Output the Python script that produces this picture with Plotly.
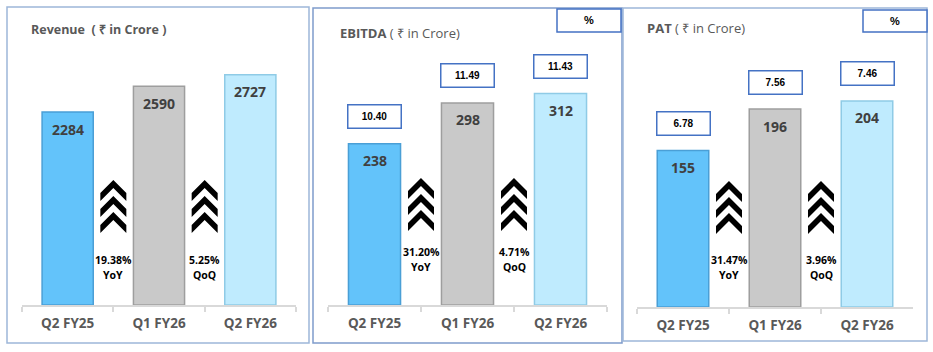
import plotly.graph_objects as go

W, H = 933, 352

categories = ["Q2 FY25", "Q1 FY26", "Q2 FY26"]
revenue = [2284, 2590, 2727]
ebitda = [238, 298, 312]
pat = [155, 196, 204]
ebitda_margin = ["10.40", "11.49", "11.43"]
pat_margin = ["6.78", "7.56", "7.46"]
revenue_growth = [["19.38%", "YoY"], ["5.25%", "QoQ"]]
ebitda_growth = [["31.20%", "YoY"], ["4.71%", "QoQ"]]
pat_growth = [["31.47%", "YoY"], ["3.96%", "QoQ"]]
titles = ["<b>Revenue  ( ₹ in Crore )</b>",
          "<b>EBITDA</b> ( ₹ in Crore)",
          "<b>PAT</b> ( ₹ in Crore)"]

bar_colors = ["#63C3FA", "#C9C9C9", "#BFEBFE"]
bar_lines = ["#4A9FD6", "#9E9E9E", "#8FCBE6"]
TEXT_GRAY = "#595959"
VAL_GRAY = "#404040"


def PX(x):
    return x / W


def PY(y):
    return 1 - y / H


# layout (pixel geometry of each panel)
panels = [
    dict(values=revenue, margins=None, growth=revenue_growth, title=titles[0], title_size=12.5,
         ax0=22, ax1=296, base=305, top=45, scale=11.84,
         border=(7, 7, 309, 343), bcolor="#9DB7D9", title_xy=(29, 29),
         chev_top=180, growth_y=(260, 275), pct_box=None),
    dict(values=ebitda, margins=ebitda_margin, growth=ebitda_growth, title=titles[1], title_size=13,
         ax0=328, ax1=607, base=305, top=45, scale=1.475,
         border=(313, 8, 622, 343), bcolor="#7F9CCB", title_xy=(338, 33),
         chev_top=178, growth_y=(252, 267), pct_box=(557, 9, 621, 32)),
    dict(values=pat, margins=pat_margin, growth=pat_growth, title=titles[2], title_size=13,
         ax0=637, ax1=913, base=307, top=45, scale=0.99,
         border=(623, 8, 927, 341), bcolor="#9DB7D9", title_xy=(645, 28),
         chev_top=181, growth_y=(260, 275), pct_box=(863, 10, 927, 32)),
]

fig = go.Figure()
shapes = []
annotations = []

for i, p in enumerate(panels):
    sfx = "" if i == 0 else str(i + 1)
    xa, ya = "x" + sfx, "y" + sfx
    fig.add_trace(go.Bar(
        x=categories, y=p["values"], xaxis=xa, yaxis=ya,
        marker=dict(color=bar_colors, line=dict(color=bar_lines, width=1.5)),
        hoverinfo="skip", showlegend=False,
    ))
    yrange = (p["base"] - p["top"]) * p["scale"]
    fig.layout["xaxis" + sfx] = dict(
        domain=[PX(p["ax0"]), PX(p["ax1"])], anchor=ya,
        showline=True, linecolor="#D9D9D9", linewidth=2,
        ticks="outside", tickson="boundaries", ticklen=5, tickcolor="#D9D9D9", tickwidth=2,
        tickfont=dict(family="Open Sans", size=13.5, color=TEXT_GRAY, weight="bold"),
        showgrid=False, zeroline=False, fixedrange=True, ticklabelstandoff=5,
    )
    fig.layout["yaxis" + sfx] = dict(
        domain=[PY(p["base"]), PY(p["top"])], anchor=xa, range=[0, yrange],
        visible=False, showgrid=False, zeroline=False, fixedrange=True,
    )

    # panel border
    bx0, by0, bx1, by1 = p["border"]
    shapes.append(dict(type="rect", xref="paper", yref="paper",
                       x0=PX(bx0), x1=PX(bx1), y0=PY(by1), y1=PY(by0),
                       line=dict(color=p["bcolor"], width=1.5), fillcolor="rgba(0,0,0,0)",
                       layer="below"))
    # title
    annotations.append(dict(xref="paper", yref="paper", x=PX(p["title_xy"][0]),
                            y=PY(p["title_xy"][1]), xanchor="left", yanchor="middle",
                            text=p["title"], showarrow=False,
                            font=dict(family="Open Sans", size=p["title_size"], color=TEXT_GRAY)))
    # value labels inside bars
    for c, v in zip(categories, p["values"]):
        annotations.append(dict(xref=xa, yref=ya, x=c, y=v, yshift=-17,
                                xanchor="center", yanchor="middle",
                                text="<b>%d</b>" % v, showarrow=False,
                                font=dict(family="Open Sans", size=14, color=VAL_GRAY)))
    # margin boxes
    if p["margins"]:
        for c, v, m in zip(categories, p["values"], p["margins"]):
            annotations.append(dict(xref=xa, yref=ya, x=c, y=v, yshift=27,
                                    xanchor="center", yanchor="middle",
                                    text="<b>%s</b>" % m, showarrow=False,
                                    width=50, height=20, borderpad=1,
                                    bordercolor="#4472C4", borderwidth=1.5, bgcolor="white",
                                    font=dict(family="Arial", size=10, color="black")))
    if p["pct_box"]:
        qx0, qy0, qx1, qy1 = p["pct_box"]
        shapes.append(dict(type="rect", xref="paper", yref="paper",
                           x0=PX(qx0), x1=PX(qx1), y0=PY(qy1), y1=PY(qy0),
                           line=dict(color="#4472C4", width=1.5), fillcolor="white"))
        annotations.append(dict(xref="paper", yref="paper", x=PX((qx0 + qx1) / 2),
                                y=PY((qy0 + qy1) / 2), xanchor="center", yanchor="middle",
                                text="<b>%</b>", showarrow=False,
                                font=dict(family="Arial", size=11, color="black")))
    # chevrons + growth text at category boundaries
    for k, (pct, lbl) in enumerate(p["growth"]):
        cx = p["ax0"] + (p["ax1"] - p["ax0"]) * (k + 1) / 3.0
        for j in range(3):
            t = p["chev_top"] + j * 16
            pts = [(-13, 13), (0, 0), (13, 13), (13, 21), (0, 8), (-13, 21)]
            path = "M " + " L ".join("%.5f,%.5f" % (PX(cx + dx), PY(t + dy)) for dx, dy in pts) + " Z"
            shapes.append(dict(type="path", xref="paper", yref="paper", path=path,
                               fillcolor="black", line=dict(width=0)))
        annotations.append(dict(xref="paper", yref="paper", x=PX(cx), y=PY(p["growth_y"][0]),
                                xanchor="center", yanchor="middle",
                                text="<b>%s</b>" % pct, showarrow=False,
                                font=dict(family="Open Sans", size=10.5, color="black")))
        annotations.append(dict(xref="paper", yref="paper", x=PX(cx), y=PY(p["growth_y"][1]),
                                xanchor="center", yanchor="middle",
                                text="<b>%s</b>" % lbl, showarrow=False,
                                font=dict(family="Open Sans", size=10.5, color="black")))

fig.update_layout(
    width=W, height=H, margin=dict(l=0, r=0, t=0, b=0),
    paper_bgcolor="white", plot_bgcolor="rgba(0,0,0,0)",
    bargap=0.44, shapes=shapes, annotations=annotations,
)

fig.write_html("out.html", config={"displayModeBar": False})
